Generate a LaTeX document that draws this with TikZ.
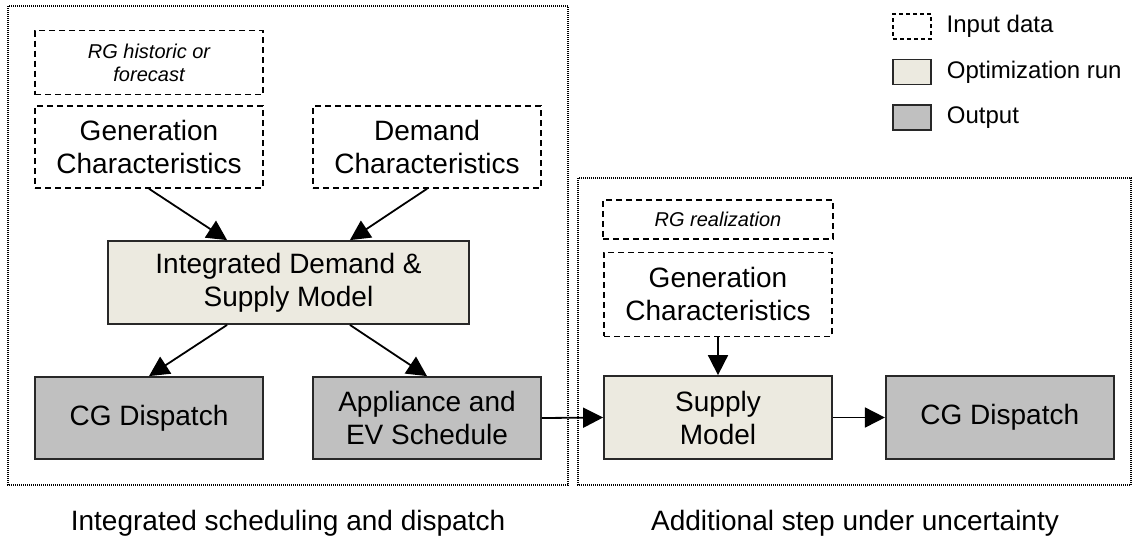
\documentclass[tikz,border=0pt]{standalone}
\usepackage{fontspec}
\setmainfont{Liberation Sans}
\usetikzlibrary{positioning,arrows.meta}

\definecolor{runfill}{RGB}{236,234,224}
\definecolor{outfill}{RGB}{192,192,192}
\definecolor{boxline}{RGB}{40,40,40}

\tikzset{
  bigfont/.style={font=\fontsize{14}{16.5}\selectfont},
  databox/.style={draw, line width=0.75pt, dash pattern=on 3pt off 2pt,
                  align=center, inner sep=0pt, bigfont},
  notebox/.style={databox, font=\fontsize{10}{11.5}\selectfont\itshape},
  runbox/.style={draw=boxline, fill=runfill, line width=0.9pt,
                 align=center, inner sep=0pt, bigfont},
  outbox/.style={runbox, fill=outfill},
  flow/.style={-{Triangle[length=10pt,width=10pt]}, line width=0.9pt},
  stage/.style={line width=0.9pt, dash pattern=on 0.5pt off 0.5pt},
  legtext/.style={anchor=west, font=\fontsize{12}{14}\selectfont}
}

\begin{document}
\begin{tikzpicture}[x=0.5pt, y=-0.5pt, node distance=5pt]

  \useasboundingbox (0,0) rectangle (1134,547);

  % the two stages
  \draw [stage] (8,6) rectangle (568,485);
  \draw [stage] (578,178) rectangle (1131,485);

  % integrated scheduling and dispatch
  \node (genChar) [databox, minimum width=114pt, minimum height=41pt]
        at (149,147) {Generation\\Characteristics};
  \node (rgHist) [notebox, minimum width=114pt, minimum height=32pt,
                  above=of genChar] {RG historic or\\forecast};
  \node (demChar) [databox, minimum width=114pt, minimum height=41pt]
        at (427,147) {Demand\\Characteristics};

  \node (idsm) [runbox, minimum width=180.5pt, minimum height=41.5pt]
        at (288.5,282.5) {Integrated Demand \&\\Supply Model};

  \node (cgDisp) [outbox, minimum width=114pt, minimum height=41pt]
        at (149,418) {CG Dispatch};
  \node (appEV) [outbox, minimum width=114pt, minimum height=41pt]
        at (427,418) {Appliance and\\EV Schedule};

  \draw [flow] (genChar.south) -- ([xshift=60pt]idsm.north west);
  \draw [flow] (demChar.south) -- ([xshift=-60pt]idsm.north east);
  \draw [flow] ([xshift=60pt]idsm.south west) -- (cgDisp.north);
  \draw [flow] ([xshift=-60pt]idsm.south east) -- (appEV.north);

  % additional step under uncertainty
  \node (supply) [runbox, minimum width=114pt, minimum height=41.5pt]
        at (718,417.5) {Supply\\Model};
  \node (genChar2) [databox, minimum width=114pt, minimum height=42pt,
                    above=19pt of supply] {Generation\\Characteristics};
  \node (rgReal) [notebox, minimum width=115pt, minimum height=19.5pt,
                  above=6pt of genChar2] {RG realization};
  \node (cgDisp2) [outbox, minimum width=114pt, minimum height=41.5pt,
                   right=26pt of supply] {CG Dispatch};

  \draw [flow] (genChar2.south) -- (supply.north);
  \draw [flow] (appEV.east) -- (supply.west);
  \draw [flow] (supply.east) -- (cgDisp2.west);

  \node (capA) [bigfont] at (288,523) {Integrated scheduling and dispatch};
  \node (capB) [bigfont] at (855,523) {Additional step under uncertainty};

  % legend
  \node (legIn) [draw, line width=0.6pt, dash pattern=on 2pt off 1.5pt,
                 minimum width=19pt, minimum height=12.5pt] at (912,26.5) {};
  \node (legRun) [runbox, line width=0.8pt, minimum width=19pt,
                  minimum height=12.5pt, below=9.5pt of legIn] {};
  \node (legOut) [outbox, line width=0.8pt, minimum width=19pt,
                  minimum height=12.5pt, below=9.5pt of legRun] {};
  \node [legtext, right=4pt of legIn] {Input data};
  \node [legtext, right=4pt of legRun] {Optimization run};
  \node [legtext, right=4pt of legOut] {Output};

\end{tikzpicture}
\end{document}
